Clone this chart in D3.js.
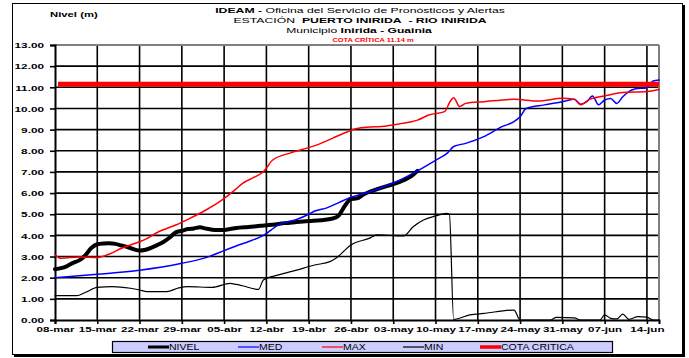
<!DOCTYPE html>
<html><head><meta charset="utf-8">
<script src="https://cdn.jsdelivr.net/npm/d3@7"></script>
<style>
body{margin:0;background:#fff;}
svg{display:block;font-family:Arial,"Liberation Sans",sans-serif;}
</style></head>
<body><svg id="c" width="689" height="358"></svg>
<script>
// ---- data (day offsets from 08-mar) ----
const startDate = new Date(2024, 2, 8);
const totalDays = 100;
const tickDays = [0,7,14,21,28,35,42,49,56,63,70,77,84,91,98];
const yTicks = [0,1,2,3,4,5,6,7,8,9,10,11,12,13];
const cotaCritica = 11.14;

const nivelDays   = [0,1,2,3,4,5,6,7,8,9,10,11,12,13,14,15,16,17,18,19,20,21,22,23,24,25,26,27,28,29,30,32,34,36,38,40,42,44,46,47,48,49,50,51,52,53,54,56,58,59,60];
const nivelValues = [2.40,2.45,2.55,2.70,2.82,3.05,3.40,3.58,3.62,3.63,3.60,3.52,3.45,3.35,3.28,3.32,3.42,3.55,3.70,3.90,4.15,4.22,4.30,4.33,4.38,4.32,4.27,4.25,4.26,4.30,4.35,4.40,4.45,4.50,4.58,4.63,4.68,4.72,4.80,4.95,5.40,5.72,5.75,5.92,6.05,6.15,6.25,6.42,6.65,6.80,7.05];

const medDays   = [0,7,14,21,25,28,30,32,34.5,37,40,42,43,45,47,49,52,54,57,60,63,65,66,68,71,74,76,77,78,81,84,86,87,88,89,90,91,92,93,94,95,96,98,99,100];
const medValues = [2.00,2.16,2.35,2.68,2.95,3.28,3.50,3.70,4.00,4.50,4.75,5.00,5.15,5.30,5.55,5.80,6.05,6.25,6.60,7.05,7.55,7.90,8.20,8.35,8.67,9.14,9.38,9.61,10.00,10.17,10.32,10.43,10.20,10.31,10.59,10.17,10.40,10.47,10.24,10.55,10.80,10.92,10.98,11.30,11.35];

const maxDays   = [0,1,4,7,9,11,14,15,17,20,22,25,27.5,30,31,33,34.5,36,39,42,44,46,48,50,52,54,57,60,62,64.5,65.4,66,67,68,71,76,80,84,86,87,88.5,91,94,98,100];
const maxValues = [3.07,2.92,2.98,2.96,3.12,3.39,3.70,3.82,4.15,4.49,4.76,5.20,5.64,6.20,6.45,6.75,7.01,7.55,7.90,8.15,8.35,8.60,8.85,9.05,9.12,9.15,9.27,9.45,9.70,9.85,10.32,10.51,10.09,10.24,10.32,10.43,10.35,10.48,10.43,10.17,10.43,10.59,10.75,10.80,10.90];

const minDays   = [0,3.6,5,7,9.5,12.5,14,15.2,18.5,20.5,22,26,29,30,31,33.7,34.5,37,40,43,45.5,46.5,49,52,53.3,57.7,59.3,61,63,64.8,65.3,66,68.7,71,76,77,82,83,86,87,90.2,91,92,93,94,95,96.5,98,99,100];
const minValues = [1.15,1.15,1.30,1.54,1.58,1.50,1.42,1.34,1.34,1.52,1.58,1.54,1.73,1.68,1.62,1.45,1.89,2.13,2.36,2.60,2.76,2.92,3.55,3.86,4.02,3.97,4.41,4.73,4.92,5.04,5.00,0.03,0.24,0.31,0.47,0.00,0.00,0.12,0.10,0.00,0.00,0.24,0.08,0.05,0.28,0.03,0.16,0.14,0.00,0.00];

const legendLabels = ["NIVEL","MED","MAX","MIN","COTA CRITICA"];

// ---- layout ----
const svg = d3.select("#c");
const L = 55, R = 659, T = 45, B = 320;
const dayToDate = d => new Date(startDate.getTime() + d*86400000);
const x = d3.scaleTime().domain([startDate, dayToDate(totalDays)]).range([L, R]);
const y = d3.scaleLinear().domain([0, 13]).range([B, T]);
const es = d3.timeFormatLocale({dateTime:"%x %X",date:"%d/%m/%Y",time:"%H:%M:%S",periods:["AM","PM"],
  days:["domingo","lunes","martes","miércoles","jueves","viernes","sábado"],shortDays:["dom","lun","mar","mié","jue","vie","sáb"],
  months:["enero","febrero","marzo","abril","mayo","junio","julio","agosto","septiembre","octubre","noviembre","diciembre"],
  shortMonths:["ene","feb","mar","abr","may","jun","jul","ago","sep","oct","nov","dic"]});
const fmt = es.format("%d-%b");

// outer frame with shadow
svg.append("rect").attr("x",14).attr("y",5).attr("width",671).attr("height",352).attr("fill","#000");
svg.append("rect").attr("x",12.5).attr("y",3.5).attr("width",670).attr("height",351).attr("fill","#fff").attr("stroke","#000").attr("stroke-width",1);

// title
const title = svg.append("g").attr("text-anchor","middle").attr("fill","#000");
function tline(parts, cx, yy, size, sx, color){
  const t = title.append("text").attr("transform",`translate(${cx},${yy}) scale(${sx},1)`).attr("font-size",size).attr("fill",color||"#000");
  parts.forEach(p => t.append("tspan").attr("font-weight", p[1] ? "bold" : "normal").text(p[0]));
}
tline([["IDEAM -",1],[" Oficina del Servicio de Pronósticos y Alertas",0]], 360, 13.3, 7.9, 1.55);
tline([["ESTACIÓN\u00a0 ",0],["PUERTO INIRIDA\u00a0 - RIO INIRIDA",1]], 360, 23.3, 7.9, 1.55);
tline([["Municipio ",0],["Inirida - Guainia",1]], 359, 33.3, 7.9, 1.53);
tline([["COTA CRÍTICA 11.14 m",1]], 373, 41.7, 6.1, 1.22, "#ff0000");
svg.append("text").attr("transform",`translate(50,17.3) scale(1.45,1)`).attr("font-size",7.8).attr("font-weight","bold").text("Nivel (m)");

// gridlines
const grid = svg.append("g");
yTicks.filter(v => v>0 && v<13).forEach(v => {
  grid.append("line").attr("x1",L).attr("x2",R).attr("y1",y(v)).attr("y2",y(v)).attr("stroke","#000").attr("stroke-width",1.6);
});
tickDays.filter(d => d>0).forEach(d => {
  grid.append("line").attr("x1",x(dayToDate(d))).attr("x2",x(dayToDate(d))).attr("y1",T).attr("y2",B).attr("stroke","#000").attr("stroke-width",1.6);
});
grid.append("line").attr("x1",L).attr("x2",R).attr("y1",T).attr("y2",T).attr("stroke","#808080").attr("stroke-width",2);
grid.append("line").attr("x1",R).attr("x2",R).attr("y1",T).attr("y2",B).attr("stroke","#808080").attr("stroke-width",2);

// axes
const yAxis = svg.append("g").attr("transform",`translate(${L},0)`)
  .call(d3.axisLeft(y).tickValues(yTicks).tickFormat(d3.format(".2f")).tickSize(5).tickPadding(6));
const xAxis = svg.append("g").attr("transform",`translate(0,${B})`)
  .call(d3.axisBottom(x).tickValues(tickDays.map(dayToDate)).tickFormat(fmt).tickSize(4).tickPadding(2));
[yAxis,xAxis].forEach(a => {
  a.select(".domain").attr("stroke","#000").attr("stroke-width",2);
  a.selectAll(".tick line").attr("stroke","#000").attr("stroke-width",1.6);
  a.selectAll("text").attr("font-weight","bold").attr("fill","#000").attr("font-family","Arial, 'Liberation Sans', sans-serif");
});
yAxis.selectAll(".tick text").attr("font-size",7.6).each(function(){
  const t = d3.select(this); const xx = +t.attr("x"); t.attr("x",null).attr("dy","0.36em")
   .attr("transform",`translate(${xx},0) scale(1.55,1)`);
});
xAxis.selectAll(".tick text").attr("font-size",8).each(function(){
  const t = d3.select(this); const yy = +t.attr("y"); t.attr("y",null)
   .attr("transform",`translate(0,${yy+0.5}) scale(1.45,1)`);
});

// series
const plot = svg.append("g");
function series(days, vals, color, w){
  const pts = days.map((d,i) => [dayToDate(d), vals[i]]);
  plot.append("path").datum(pts)
    .attr("d", d3.line().x(p => x(p[0])).y(p => y(p[1])).curve(d3.curveMonotoneX))
    .attr("fill","none").attr("stroke",color).attr("stroke-width",w).attr("stroke-linejoin","round").attr("stroke-linecap","round");
}
series(nivelDays, nivelValues, "#000", 4);
series(medDays, medValues, "#0000ff", 1.5);
series(maxDays, maxValues, "#ff0000", 1.5);
series(minDays, minValues, "#000", 1.2);
plot.append("line").attr("x1",x(dayToDate(0.5))).attr("x2",R).attr("y1",y(cotaCritica)).attr("y2",y(cotaCritica))
  .attr("stroke","#ff0000").attr("stroke-width",5);

// legend
const lg = svg.append("g");
lg.append("rect").attr("x",112.5).attr("y",341.5).attr("width",500).attr("height",11).attr("fill","#ccccff").attr("stroke","#000").attr("stroke-width",1.2);
const legendStyles = [["#000",3,148],["#0000ff",1.2,238],["#ff0000",1.2,322],["#000",1.2,403],["#ff0000",3.5,480]];
legendLabels.forEach((lab,i) => {
  const [c,w,lx] = legendStyles[i];
  lg.append("line").attr("x1",lx).attr("x2",lx+21).attr("y1",347).attr("y2",347).attr("stroke",c).attr("stroke-width",w);
  lg.append("text").attr("transform",`translate(${lx+21},350) scale(1.27,1)`).attr("font-size",8.3).attr("fill","#000").text(lab);
});
</script></body></html>
